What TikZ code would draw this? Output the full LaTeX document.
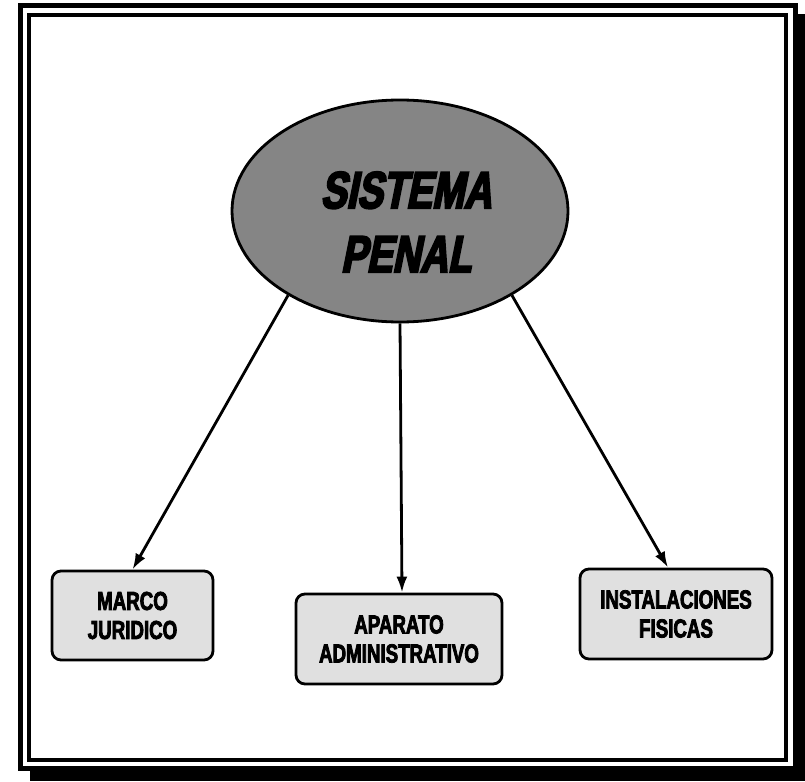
\documentclass[tikz,border=0pt]{standalone}
\usepackage{fontspec}
\usetikzlibrary{shapes.geometric,arrows.meta,patterns}
\newfontfamily\bigfont[FakeStretch=0.74,FakeSlant=0.2,FakeBold=4]{Liberation Sans}
\newfontfamily\boxfont[FakeStretch=0.72,FakeBold=3]{Liberation Sans}
\tikzset{
  lbox/.style={draw, line width=2.8pt, rounded corners=9pt, fill=black!12,
    inner sep=0pt, align=center,
    font=\boxfont\bfseries\fontsize{26}{29}\selectfont},
  arr/.style={line width=2.8pt, -{Latex[length=16pt,width=11pt]}},
  frameouter/.style={line width=5pt},
  frameinner/.style={line width=3.5pt}
}
\begin{document}
\begin{tikzpicture}[x=1pt,y=-1pt]
\useasboundingbox (0,0) rectangle (805,781);
\fill[white] (0,0) rectangle (805,781);
% shadow
\fill[black] (795,14) rectangle (805,781);
\fill[black] (30,768) rectangle (805,781);
% frame
\draw[frameouter] (20,6) rectangle (795,768);
\draw[frameinner] (29,15) rectangle (786,760);
% central ellipse
\node[ellipse, draw, line width=2.8pt, fill=black!48, minimum width=336pt,
      minimum height=222pt, inner sep=0pt] (sp) at (400,211) {};
\node[font=\bigfont\bfseries\fontsize{52}{64}\selectfont, align=center,
      inner sep=0pt] (spt) at (406,222) {SISTEMA\\PENAL};
% boxes
\node[lbox, minimum width=161pt, minimum height=89pt] (b1) at (132.5,615.5)
  {MARCO\\JURIDICO};
\node[lbox, minimum width=206pt, minimum height=90pt] (b2) at (399,639)
  {APARATO\\ADMINISTRATIVO};
\node[lbox, minimum width=192pt, minimum height=90pt] (b3) at (676,614)
  {INSTALACIONES\\FISICAS};
% arrows
\draw[arr] (sp.217) -- (b1.north);
\draw[arr] (sp.south) -- ([xshift=3pt]b2.north);
\draw[arr] (sp.323) -- ([xshift=-8pt]b3.north);
\end{tikzpicture}
\end{document}
